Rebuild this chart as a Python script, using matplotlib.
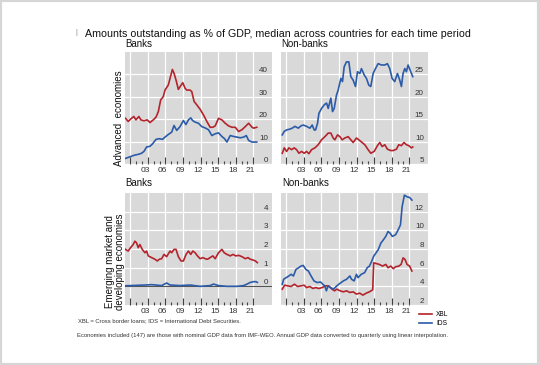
import matplotlib
matplotlib.use('Agg')
import matplotlib.pyplot as plt
from matplotlib.patches import Rectangle

plt.rcParams['font.family'] = ['Liberation Sans', 'DejaVu Sans']

# ---------------- data ----------------
# Advanced economies - Banks
tl_xbl_years = [2000.19, 2000.64, 2001.21, 2001.61, 2001.96, 2002.47, 2002.81, 2003.33, 2003.9, 2004.36,
                2004.93, 2005.39, 2005.79, 2006.19, 2006.64, 2006.93, 2007.5, 2007.79, 2008.19, 2008.47,
                2008.81, 2009.21, 2009.5, 2009.96, 2010.36, 2010.64, 2011.21, 2011.5, 2011.9, 2012.36,
                2012.93, 2013.5, 2014.07, 2014.64, 2015.1, 2015.5, 2016.07, 2016.64, 2017.21, 2017.79,
                2018.36, 2018.93, 2019.5, 2020.07, 2020.64, 2021.21, 2021.79, 2022.07, 2022.6]
tl_xbl = [20.4, 19.0, 20.4, 21.2, 19.7, 21.2, 19.7, 19.3, 19.7, 18.5,
          19.7, 20.9, 23.4, 28.6, 30.1, 33.0, 35.3, 38.2, 42.2, 40.5,
          37.5, 33.3, 34.5, 36.3, 33.8, 33.0, 33.0, 32.3, 27.9, 26.4,
          24.4, 21.9, 19.0, 16.4, 16.4, 17.0, 20.4, 19.7, 18.2, 17.0,
          16.4, 16.4, 14.5, 15.3, 16.7, 18.2, 16.4, 16.0, 16.4]
tl_ids_years = [2000.19, 2000.93, 2001.79, 2002.36, 2002.93, 2003.33, 2003.79, 2004.36, 2004.81, 2005.39,
                2005.96, 2006.5, 2006.93, 2007.5, 2008.07, 2008.47, 2008.93, 2009.5, 2010.07, 2010.5,
                2010.93, 2011.33, 2011.64, 2012.07, 2012.64, 2013.21, 2013.79, 2014.36, 2014.93, 2015.5,
                2016.07, 2016.64, 2017.1, 2017.5, 2018.07, 2018.64, 2019.21, 2019.79, 2020.36, 2020.81,
                2021.21, 2021.79, 2022.6]
tl_ids = [2.5, 3.2, 4.0, 4.3, 4.8, 5.6, 7.6, 7.9, 9.0, 11.0,
          11.3, 11.0, 12.0, 13.2, 14.2, 17.2, 15.0, 16.7, 19.4, 17.6,
          19.7, 20.6, 19.4, 18.7, 18.2, 16.7, 16.1, 15.3, 12.7, 13.5,
          13.9, 12.3, 11.3, 9.8, 12.7, 12.3, 12.0, 11.7, 12.0, 12.7,
          10.5, 9.8, 9.8]

# Advanced economies - Non-banks
tr_years = [2000.32, 2000.66, 2001.06, 2001.63, 2002.02, 2002.48, 2003.05, 2003.5, 2003.9, 2004.47,
            2005.03, 2005.43, 2005.77, 2006.0, 2006.34, 2006.57, 2007.02, 2007.48, 2007.88, 2008.16,
            2008.61, 2008.9, 2009.18, 2009.58, 2009.86, 2010.32, 2010.6, 2010.89, 2011.28, 2011.68,
            2012.02, 2012.42, 2012.82, 2013.16, 2013.56, 2013.84, 2014.3, 2014.69, 2015.09, 2015.43,
            2015.83, 2016.23, 2016.68, 2017.25, 2017.82, 2018.27, 2018.67, 2019.07, 2019.52, 2019.98,
            2020.38, 2020.66, 2020.94, 2021.23, 2021.51, 2021.8, 2022.25, 2022.6]
tr_ids = [11.5, 12.3, 12.6, 12.8, 13.0, 13.4, 13.0, 13.5, 13.7, 13.4,
          13.0, 13.7, 12.6, 12.6, 14.1, 16.3, 17.4, 18.2, 18.6, 17.4,
          19.7, 16.7, 17.4, 20.4, 21.5, 24.1, 23.4, 26.7, 27.8, 27.8,
          24.5, 23.7, 22.3, 25.6, 25.2, 26.3, 24.9, 24.1, 22.6, 22.3,
          25.2, 26.3, 27.4, 27.1, 27.1, 27.4, 26.3, 24.1, 23.4, 25.2,
          23.7, 22.3, 25.2, 26.3, 25.6, 27.1, 25.6, 24.5]
tr_xbl_years = [2000.32, 2000.66, 2001.06, 2001.45, 2001.91, 2002.36, 2002.76, 2003.16, 2003.61, 2004.07,
                2004.47, 2004.86, 2005.32, 2005.89, 2006.45, 2007.02, 2007.59, 2008.16, 2008.61, 2009.01,
                2009.3, 2009.75, 2010.15, 2010.55, 2011.0, 2011.57, 2012.02, 2012.42, 2012.99, 2013.39,
                2013.95, 2014.41, 2014.98, 2015.43, 2016.0, 2016.57, 2016.97, 2017.36, 2017.82, 2018.27,
                2018.84, 2019.24, 2019.81, 2020.2, 2020.66, 2021.11, 2021.51, 2021.91, 2022.36, 2022.6]
tr_xbl = [7.4, 8.6, 7.8, 8.6, 8.2, 8.6, 8.2, 7.4, 7.8, 7.4,
          7.8, 7.3, 8.2, 8.6, 9.3, 10.4, 11.1, 11.9, 11.9, 10.8,
          10.4, 11.5, 11.1, 10.4, 10.8, 11.1, 10.4, 9.8, 10.8, 10.4,
          9.8, 9.3, 8.2, 7.4, 7.8, 9.1, 9.8, 8.9, 9.3, 8.3,
          8.0, 8.0, 8.3, 9.3, 9.1, 9.8, 9.3, 9.1, 8.6, 8.8]

# Emerging market and developing economies - Banks
bl_xbl_years = [2000.19, 2000.64, 2001.04, 2001.5, 2001.79, 2002.07, 2002.36, 2002.64, 2003.04, 2003.5,
                2003.79, 2004.07, 2004.64, 2005.21, 2005.61, 2005.96, 2006.36, 2006.76, 2007.21, 2007.79,
                2008.07, 2008.47, 2008.81, 2009.21, 2009.67, 2010.07, 2010.53, 2010.93, 2011.33, 2011.67,
                2012.07, 2012.47, 2012.93, 2013.39, 2013.79, 2014.19, 2014.64, 2015.1, 2015.5, 2016.07,
                2016.64, 2017.04, 2017.5, 2018.07, 2018.53, 2019.04, 2019.5, 2020.07, 2020.64, 2021.1,
                2021.5, 2021.96, 2022.36, 2022.7]
bl_xbl = [1.98, 1.89, 2.07, 2.24, 2.42, 2.33, 2.07, 2.24, 1.98, 1.80,
          1.89, 1.63, 1.54, 1.45, 1.36, 1.45, 1.48, 1.71, 1.59, 1.89,
          1.80, 1.98, 1.98, 1.59, 1.36, 1.36, 1.71, 1.89, 1.71, 1.89,
          1.80, 1.63, 1.48, 1.54, 1.48, 1.45, 1.54, 1.63, 1.48, 1.80,
          1.98, 1.80, 1.71, 1.63, 1.71, 1.63, 1.66, 1.59, 1.48, 1.54,
          1.45, 1.41, 1.36, 1.27]
bl_ids_years = [2000.19, 2003.5, 2004.64, 2006.36, 2007.21, 2007.79, 2009.5, 2011.21, 2012.93, 2014.64,
                2015.21, 2016.07, 2017.5, 2019.21, 2020.36, 2020.93, 2021.5, 2022.07, 2022.45, 2022.7]
bl_ids = [0.03, 0.07, 0.09, 0.04, 0.18, 0.07, 0.04, 0.07, 0.0, 0.04,
          0.12, 0.04, 0.0, 0.0, 0.04, 0.12, 0.21, 0.25, 0.25, 0.21]

# Emerging market and developing economies - Non-banks
br_years = [2000.32, 2000.55, 2000.99, 2001.44, 2001.83, 2002.22, 2002.66, 2003.11, 2003.5, 2003.89,
            2004.34, 2004.78, 2005.17, 2005.73, 2006.29, 2006.84, 2007.23, 2007.57, 2007.85, 2008.13,
            2008.52, 2009.07, 2009.63, 2010.19, 2010.75, 2011.3, 2011.86, 2012.14, 2012.59, 2012.98,
            2013.25, 2013.81, 2014.37, 2014.82, 2015.2, 2015.6, 2015.93, 2016.32, 2016.71, 2017.16,
            2017.6, 2017.99, 2018.38, 2018.72, 2019.11, 2019.67, 2020.11, 2020.5, 2020.78, 2021.17,
            2021.62, 2022.06, 2022.45]
br_ids = [4.23, 4.76, 4.93, 5.11, 5.29, 5.11, 5.82, 5.99, 6.17, 6.24,
          5.82, 5.64, 5.18, 4.58, 4.40, 4.47, 4.23, 4.05, 3.52, 4.05,
          3.87, 3.70, 4.05, 4.33, 4.58, 4.76, 5.11, 4.76, 4.58, 5.29,
          4.93, 5.29, 5.46, 5.99, 6.17, 6.70, 7.23, 7.58, 7.94, 8.64,
          9.00, 9.35, 9.88, 9.70, 9.35, 9.53, 10.06, 10.59, 12.53, 13.77,
          13.59, 13.52, 13.24]
br_xbl_years = [2000.32, 2000.71, 2001.27, 2001.83, 2002.39, 2002.94, 2003.5, 2004.06, 2004.45, 2005.01,
                2005.56, 2006.01, 2006.57, 2007.12, 2007.68, 2008.24, 2008.8, 2009.24, 2009.63, 2010.19,
                2010.75, 2011.3, 2011.86, 2012.42, 2012.98, 2013.53, 2014.09, 2014.65, 2015.2, 2015.76,
                2015.93, 2016.32, 2016.88, 2017.44, 2017.99, 2018.38, 2018.83, 2019.27, 2019.67, 2020.22,
                2020.61, 2020.95, 2021.28, 2021.62, 2022.06, 2022.45]
br_xbl = [3.70, 4.12, 4.05, 3.98, 4.23, 3.98, 4.05, 4.12, 3.87, 3.98,
          3.77, 3.87, 3.77, 3.87, 4.05, 4.05, 3.70, 3.52, 3.70, 3.52,
          3.41, 3.52, 3.34, 3.41, 3.17, 3.27, 3.06, 3.27, 3.41, 3.63,
          6.52, 6.45, 6.35, 6.17, 6.35, 5.99, 6.17, 5.89, 6.10, 6.17,
          6.35, 7.05, 6.88, 6.35, 6.17, 5.64]

tick_label_years = [2003.5, 2006.5, 2009.5, 2012.5, 2015.5, 2018.5, 2021.5]
tick_labels = ['03', '06', '09', '12', '15', '18', '21']
grid_years = [2001, 2004, 2007, 2010, 2013, 2016, 2019, 2022]
minor_years = list(range(2001, 2023))

tl_yticks = [0, 10, 20, 30, 40]
tr_yticks = [5, 10, 15, 20, 25]
bl_yticks = [0, 1, 2, 3, 4]
br_yticks = [2, 4, 6, 8, 10, 12]

title = 'Amounts outstanding as % of GDP, median across countries for each time period'
note1 = 'XBL = Cross border loans; IDS = International Debt Securities.'
note2 = ('Economies included (147) are those with nominal GDP data from IMF-WEO. '
         'Annual GDP data converted to quarterly using linear interpolation.')

# ---------------- figure ----------------
W, H = 539, 365
fig = plt.figure(figsize=(W / 100, H / 100), dpi=100)

RED = '#b3242c'
BLUE = '#2b5ba9'
BG = '#d9d9d9'
TXT = '#333333'
XLIM = (2000.1, 2025.2)


def rect(x0, y0, x1, y1):
    return [x0 / W, 1 - y1 / H, (x1 - x0) / W, (y1 - y0) / H]


def style(ax, yticks, ylim):
    ax.set_facecolor(BG)
    for s in ax.spines.values():
        s.set_visible(False)
    ax.set_xlim(XLIM)
    ax.set_ylim(ylim)
    ax.set_xticks(grid_years)
    ax.set_xticks(minor_years, minor=True)
    ax.tick_params(axis='x', which='major', direction='in', length=4.8, width=0.8,
                   color='#404040', labelbottom=False)
    ax.tick_params(axis='x', which='minor', direction='in', length=2.4, width=0.8,
                   color='#404040')
    ax.set_yticks(yticks)
    ax.tick_params(axis='y', which='both', length=0, labelleft=False, labelright=True,
                   pad=-3, labelsize=5.8, labelcolor=TXT)
    for lab in ax.get_yticklabels():
        lab.set_ha('right')
        lab.set_va('bottom')
    ax.grid(True, color='white', lw=0.9)
    ax.set_axisbelow(True)
    sec = ax.secondary_xaxis('bottom')
    sec.set_xticks(tick_label_years, tick_labels)
    sec.tick_params(length=0, pad=2.5, labelsize=6, labelcolor=TXT)
    sec.spines['bottom'].set_visible(False)


LW = 1.2

ax_tl = fig.add_axes(rect(125, 52, 272, 164))
style(ax_tl, tl_yticks, (0, 50))
ax_tl.plot(tl_xbl_years, tl_xbl, color=RED, lw=LW)
ax_tl.plot(tl_ids_years, tl_ids, color=BLUE, lw=LW)

ax_tr = fig.add_axes(rect(281, 52, 428, 164))
style(ax_tr, tr_yticks, (5, 30))
ax_tr.plot(tr_xbl_years, tr_xbl, color=RED, lw=LW)
ax_tr.plot(tr_years, tr_ids, color=BLUE, lw=LW)

ax_bl = fig.add_axes(rect(125, 193, 272, 305))
style(ax_bl, bl_yticks, (-1, 5))
ax_bl.axhline(0, color='#555555', lw=0.8, zorder=1.5)
ax_bl.plot(bl_xbl_years, bl_xbl, color=RED, lw=LW)
ax_bl.plot(bl_ids_years, bl_ids, color=BLUE, lw=LW)

ax_br = fig.add_axes(rect(281, 193, 428, 305))
style(ax_br, br_yticks, (2, 14))
l_xbl, = ax_br.plot(br_xbl_years, br_xbl, color=RED, lw=LW)
l_ids, = ax_br.plot(br_years, br_ids, color=BLUE, lw=LW)

# texts
fig.text(85 / W, 1 - 34 / H, title, fontsize=7.7, va='center', ha='left', color='#111111')
fig.text(76 / W, 1 - 33 / H, '|', fontsize=5, va='center', ha='center', color='#888888')
fig.text(125 / W, 1 - 44 / H, 'Banks', fontsize=7, va='center', color='#111111')
fig.text(281 / W, 1 - 44 / H, 'Non-banks', fontsize=7, va='center', color='#111111')
fig.text(125 / W, 1 - 183 / H, 'Banks', fontsize=7, va='center', color='#111111')
fig.text(282 / W, 1 - 183 / H, 'Non-banks', fontsize=7, va='center', color='#111111')
fig.text(119 / W, 1 - 118 / H, 'Advanced  economies', fontsize=7, rotation=90,
         va='center', ha='center', color='#111111')
fig.text(115 / W, 1 - 262 / H, 'Emerging market and\ndeveloping economies', fontsize=7,
         rotation=90, va='center', ha='center', color='#111111', linespacing=1.0)
fig.text(78 / W, 1 - 321 / H, note1, fontsize=4.25, va='center', color=TXT)
fig.text(77 / W, 1 - 335 / H, note2, fontsize=4.25, va='center', color=TXT)

fig.legend([l_xbl, l_ids], ['XBL', 'IDS'], loc='upper left',
           bbox_to_anchor=(419 / W, 1 - 311 / H), frameon=False, fontsize=4.8,
           handlelength=2.0, handletextpad=0.6, labelspacing=0.3, borderaxespad=0,
           borderpad=0)

fig.add_artist(Rectangle((0, 0), 1, 1, transform=fig.transFigure, fill=False,
                         edgecolor='#d6d6d6', lw=3))

fig.savefig('out.png', dpi=100)
